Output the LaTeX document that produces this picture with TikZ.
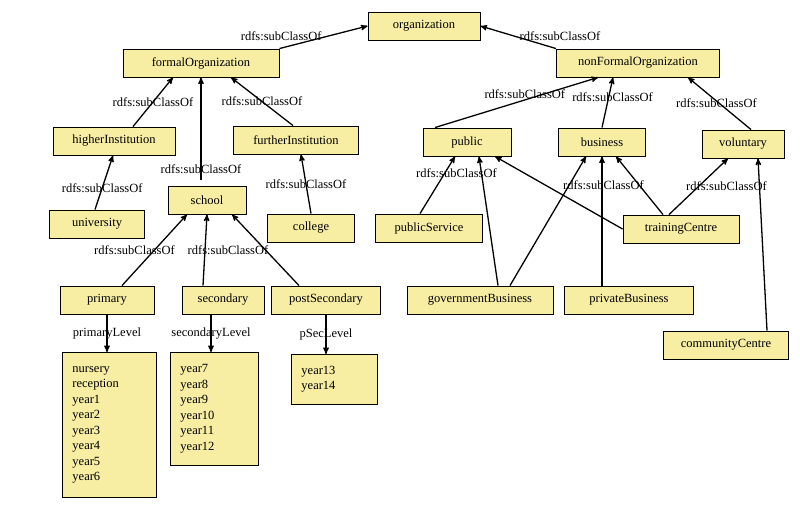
\documentclass[tikz,border=0pt]{standalone}
\usepackage{fontspec}
\setmainfont{Liberation Serif}
\usetikzlibrary{arrows}
\definecolor{boxfill}{HTML}{F7EDA3}

\begin{document}
\begin{tikzpicture}
	[x=1pt, y=-1pt,
	font=\fontsize{12.5}{15.5}\selectfont,
	cls/.style={draw, fill=boxfill, minimum height=28pt, inner sep=2pt, line width=0.9pt},
	lst/.style={draw, fill=boxfill, align=left, anchor=north west, inner xsep=10pt, line width=0.9pt},
	sub/.style={fill=none, inner sep=1pt},
	link/.style={->, line width=1.3pt},
	>=stealth']
	\useasboundingbox (0,0) rectangle (800,509);
	
	% class nodes
	\node [cls, minimum width=112pt] (org) at (424,26) {organization};
	\node [cls, minimum width=156pt] (formal) at (201,63) {formalOrganization};
	\node [cls, minimum width=163pt] (nonformal) at (638,63) {nonFormalOrganization};
	\node [cls, minimum width=122pt] (higher) at (114,141) {higherInstitution};
	\node [cls, minimum width=125pt] (further) at (296,140) {furtherInstitution};
	\node [cls, minimum width=78pt] (school) at (207,200) {school};
	\node [cls, minimum width=95pt] (univ) at (97,224) {university};
	\node [cls, minimum width=87pt] (college) at (311,228) {college};
	\node [cls, minimum width=88pt] (public) at (467,142) {public};
	\node [cls, minimum width=87pt] (business) at (602,142) {business};
	\node [cls, minimum width=82pt] (volunt) at (743,144) {voluntary};
	\node [cls, minimum width=107pt] (pubserv) at (429,228) {publicService};
	\node [cls, minimum width=116pt] (training) at (681,229) {trainingCentre};
	\node [cls, minimum width=94pt] (primary) at (107,300) {primary};
	\node [cls, minimum width=82pt] (secondary) at (223,300) {secondary};
	\node [cls, minimum width=109pt] (postsec) at (326,300) {postSecondary};
	\node [cls, minimum width=146pt] (govbus) at (480,300) {governmentBusiness};
	\node [cls, minimum width=129pt] (privbus) at (629,300) {privateBusiness};
	\node [cls, minimum width=125pt] (community) at (726,345) {communityCentre};
	
	% level lists
	\node [lst, text width=74pt, minimum height=145pt] (prilist) at (62,352) {nursery\\reception\\year1\\year2\\year3\\year4\\year5\\year6};
	\node [lst, text width=68pt, minimum height=113pt] (seclist) at (170,352) {year7\\year8\\year9\\year10\\year11\\year12};
	\node [lst, text width=66pt, minimum height=50pt] (postlist) at (291,354) {year13\\year14};
	
	% subclass arrows
	\draw [link] (formal.north east) -- node[sub, pos=0.45, above left=-4pt] {rdfs:subClassOf} (org.west);
	\draw [link] (nonformal.north west) -- node[sub, pos=0.45, above right=-4pt] {rdfs:subClassOf} (org.east);
	\draw [link] ([xshift=19pt]higher.north) -- node[sub, pos=0.5] {rdfs:subClassOf} ([xshift=-28pt]formal.south);
	\draw [link] ([xshift=-3pt]further.north) -- node[sub, pos=0.5] {rdfs:subClassOf} ([xshift=30pt]formal.south);
	\draw [link] ([yshift=6pt]school.north -| formal.south) -- node[sub, pos=0.1] {rdfs:subClassOf} (formal.south);
	\draw [link] ([xshift=-2pt]univ.north) -- node[sub, pos=0.4] {rdfs:subClassOf} ([xshift=-1pt]higher.south);
	\draw [link] (college.north) -- node[sub, pos=0.5] {rdfs:subClassOf} ([xshift=5pt]further.south);
	\draw [link] ([xshift=-32pt]public.north) -- node[sub, pos=0.6, xshift=-8pt, yshift=3pt] {rdfs:subClassOf} ([xshift=-40pt]nonformal.south);
	\draw [link] (business.north) -- node[sub, pos=0.6, xshift=4pt] {rdfs:subClassOf} ([xshift=-25pt]nonformal.south);
	\draw [link] ([xshift=8pt]volunt.north) -- node[sub, pos=0.5, xshift=-3pt] {rdfs:subClassOf} ([xshift=50pt]nonformal.south);
	\draw [link] ([xshift=-9pt]pubserv.north) -- node[sub, pos=0.7, xshift=12pt] {rdfs:subClassOf} ([xshift=-12pt]public.south);
	\draw [link] ([xshift=18pt]govbus.north) -- ([xshift=12pt]public.south);
	\draw [link] ([xshift=30pt]govbus.north) -- ([xshift=-16pt]business.south);
	\draw [link] (business.south |- privbus.north) -- (business.south);
	\draw [link] (training.west) -- ([xshift=28pt]public.south);
	\draw [link] ([xshift=-18pt]training.north) -- node[sub, pos=0.5, xshift=-36pt] {rdfs:subClassOf} ([xshift=14pt]business.south);
	\draw [link] ([xshift=-12pt]training.north) -- node[sub, pos=0.5, xshift=28pt] {rdfs:subClassOf} ([xshift=-15pt]volunt.south);
	\draw [link] ([xshift=41pt]community.north) -- ([xshift=15pt]volunt.south);
	\draw [link] ([xshift=15pt]primary.north) -- node[sub, pos=0.5, xshift=-20pt] {rdfs:subClassOf} ([xshift=-20pt]school.south);
	\draw [link] ([xshift=-20pt]secondary.north) -- node[sub, pos=0.5, xshift=23pt] {rdfs:subClassOf} (school.south);
	\draw [link] ([xshift=-27pt]postsec.north) -- ([xshift=25pt]school.south);
	
	% level arrows
	\draw [link] (primary.south) -- node[sub] {primaryLevel} (primary.south |- prilist.north);
	\draw [link] ([xshift=-12pt]secondary.south) -- node[sub] {secondaryLevel} ([xshift=-12pt]secondary.south |- seclist.north);
	\draw [link] (postsec.south) -- node[sub] {pSecLevel} (postsec.south |- postlist.north);
\end{tikzpicture}
\end{document}
